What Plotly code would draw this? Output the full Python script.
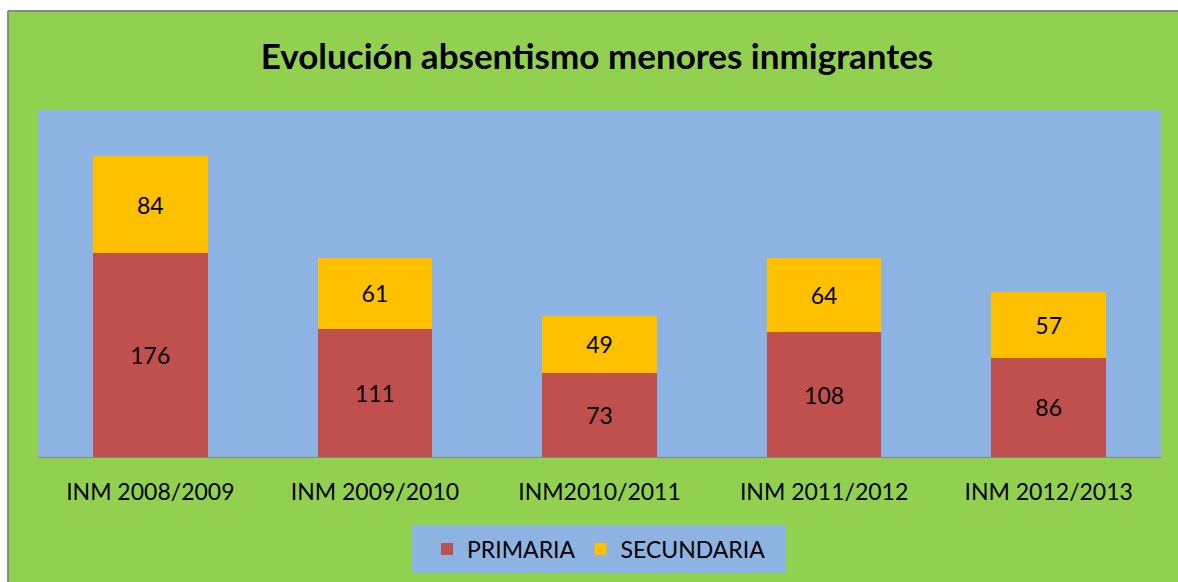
import plotly.graph_objects as go

cursos = ["INM 2008/2009", "INM 2009/2010", "INM2010/2011", "INM 2011/2012", "INM 2012/2013"]
primaria = [176, 111, 73, 108, 86]
secundaria = [84, 61, 49, 64, 57]

verde = "#92D050"
azul = "#8DB3E2"
rojo = "#C0504D"
amarillo = "#FFC000"
fuente = "Lato"

fig = go.Figure()
fig.add_trace(go.Bar(x=cursos, y=primaria, name="PRIMARIA", marker_color=rojo, marker_line_width=0,
                     text=primaria, textposition="inside", insidetextanchor="middle",
                     textangle=0, textfont=dict(size=23, color="black")))
fig.add_trace(go.Bar(x=cursos, y=secundaria, name="SECUNDARIA", marker_color=amarillo, marker_line_width=0,
                     text=secundaria, textposition="inside", insidetextanchor="middle",
                     textangle=0, textfont=dict(size=23, color="black")))

# borde del grafico (franja blanca arriba/izquierda y linea gris)
fig.add_shape(type="rect", xref="paper", yref="paper", x0=-0.05, x1=1.1, y0=1.2853, y1=1.4,
              fillcolor="white", line_width=0)
fig.add_shape(type="rect", xref="paper", yref="paper", x0=-0.05, x1=-0.0267, y0=-0.5, y1=1.4,
              fillcolor="white", line_width=0)
fig.add_shape(type="line", xref="paper", yref="paper", x0=-0.0267, x1=1.1, y0=1.2853, y1=1.2853,
              line=dict(color="#898989", width=2))
fig.add_shape(type="line", xref="paper", yref="paper", x0=-0.0267, x1=-0.0267, y0=-0.5, y1=1.2853,
              line=dict(color="#898989", width=2))
# caja de la leyenda
fig.add_shape(type="rect", xref="paper", yref="paper", x0=0.333, x1=0.666, y0=-0.334, y1=-0.196,
              fillcolor=azul, line_width=0, layer="below")

fig.update_layout(
    width=1178, height=582,
    barmode="stack", bargap=0.49,
    paper_bgcolor=verde, plot_bgcolor=azul,
    margin=dict(l=38, r=17, t=110, b=125),
    font=dict(family=fuente, color="black"),
    title=dict(text="<b>Evolución absentismo menores inmigrantes</b>", x=0.5068, xanchor="center",
               y=0.902, yanchor="middle", font=dict(size=35, color="black", family=fuente)),
    showlegend=True,
    legend=dict(orientation="h", x=0.4996, xanchor="center", y=-0.265, yanchor="middle",
                bgcolor="rgba(0,0,0,0)", font=dict(size=23), itemwidth=30, traceorder="normal"),
    xaxis=dict(showline=True, linecolor="#868686", linewidth=1, ticks="",
               tickfont=dict(size=23), showgrid=False, ticklabelstandoff=14),
    yaxis=dict(range=[0, 300], visible=False, showgrid=False),
)

# quitar el margen del body para que el grafico empiece en 0,0
fig.write_html("out.html", config={"displayModeBar": False},
               post_script="document.body.style.margin='0';document.body.style.overflow='hidden';")
